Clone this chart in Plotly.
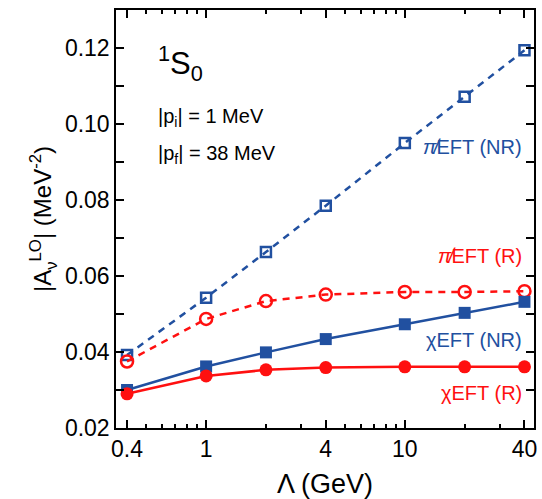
import plotly.graph_objects as go

lam = [0.4, 1, 2, 4, 10, 20, 40]
pieft_nr = [0.0392, 0.0543, 0.0663, 0.0785, 0.0950, 0.1072, 0.1194]
pieft_r = [0.0375, 0.0487, 0.0534, 0.0551, 0.0558, 0.0558, 0.0560]
chieft_nr = [0.0300, 0.0362, 0.0399, 0.0434, 0.0473, 0.0503, 0.0532]
chieft_r = [0.0290, 0.0337, 0.0353, 0.0359, 0.0361, 0.0361, 0.0361]

x_ticks = [0.4, 1, 4, 10, 40]
x_ticklabels = ["0.4", "1", "4", "10", "40"]
x_minor = [0.5, 0.6, 0.7, 0.8, 0.9, 2, 3, 5, 6, 7, 8, 9, 20, 30]
y_ticks = [0.02, 0.04, 0.06, 0.08, 0.10, 0.12]
y_ticklabels = ["0.02", "0.04", "0.06", "0.08", "0.10", "0.12"]
y_minor = [0.03, 0.05, 0.07, 0.09, 0.11]

BLUE = "#2150a0"
RED = "#ff1010"
FONT = "Liberation Sans, Arial, sans-serif"

fig = go.Figure()
fig.add_trace(go.Scatter(x=lam, y=pieft_nr, mode="lines+markers",
                         line=dict(color=BLUE, width=2.5, dash="7px,6px"),
                         marker=dict(symbol="square-open", size=10, color=BLUE, line=dict(width=2.5, color=BLUE))))
fig.add_trace(go.Scatter(x=lam, y=pieft_r, mode="lines+markers",
                         line=dict(color=RED, width=2.5, dash="7px,6px"),
                         marker=dict(symbol="circle-open", size=12, color=RED, line=dict(width=2.5, color=RED))))
fig.add_trace(go.Scatter(x=lam, y=chieft_nr, mode="lines+markers",
                         line=dict(color=BLUE, width=2.5),
                         marker=dict(symbol="square", size=12, color=BLUE)))
fig.add_trace(go.Scatter(x=lam, y=chieft_r, mode="lines+markers",
                         line=dict(color=RED, width=2.5),
                         marker=dict(symbol="circle", size=13, color=RED)))

annots = [
    dict(x=0.095, y=0.872, text="<sup>1</sup>S<sub>0</sub>", font=dict(size=31, color="black"), xanchor="left"),
    dict(x=0.095, y=0.744, text="|p<sub>i</sub>| = 1 MeV", font=dict(size=20, color="black"), xanchor="left"),
    dict(x=0.095, y=0.654, text="|p<sub>f</sub>| = 38 MeV", font=dict(size=20, color="black"), xanchor="left"),
    dict(x=0.976, y=0.673, text="<i>π\u0338</i>EFT (NR)", font=dict(size=20, color=BLUE), xanchor="right"),
    dict(x=0.976, y=0.412, text="<i>π\u0338</i>EFT (R)", font=dict(size=20, color=RED), xanchor="right"),
    dict(x=0.976, y=0.210, text="χEFT (NR)", font=dict(size=20, color=BLUE), xanchor="right"),
    dict(x=0.976, y=0.083, text="χEFT (R)", font=dict(size=20, color=RED), xanchor="right"),
]
for a in annots:
    fig.add_annotation(xref="paper", yref="paper", showarrow=False, yanchor="middle", **a)

fig.update_layout(
    width=542, height=499,
    margin=dict(l=116, r=5, t=10, b=69),
    plot_bgcolor="white", paper_bgcolor="white",
    showlegend=False,
    font=dict(family=FONT, color="black"),
    xaxis=dict(type="log", range=[-0.4535, 1.65], tickvals=x_ticks, ticktext=x_ticklabels,
               ticks="inside", ticklen=8, tickwidth=1.5, tickcolor="black",
               showline=True, linecolor="black", linewidth=1.5, mirror="ticks",
               showgrid=False, zeroline=False, tickfont=dict(size=23),
               minor=dict(tickvals=x_minor, ticks="inside", ticklen=4, tickwidth=1.5, tickcolor="black", showgrid=False),
               title=dict(text="Λ (GeV)", font=dict(size=27), standoff=13)),
    yaxis=dict(range=[0.02, 0.13], tickvals=y_ticks, ticktext=y_ticklabels,
               ticks="inside", ticklen=8, tickwidth=1.5, tickcolor="black",
               showline=True, linecolor="black", linewidth=1.5, mirror="ticks",
               showgrid=False, zeroline=False, tickfont=dict(size=23),
               minor=dict(tickvals=y_minor, ticks="inside", ticklen=8, tickwidth=1.5, tickcolor="black", showgrid=False),
               title=dict(text="|A<sub>ν</sub><sup>LO</sup>| (MeV<sup>-2</sup>)", font=dict(size=24), standoff=6)),
)

fig.write_html("out.html", config={"displayModeBar": False},
               post_script="document.body.style.margin='0px';")
